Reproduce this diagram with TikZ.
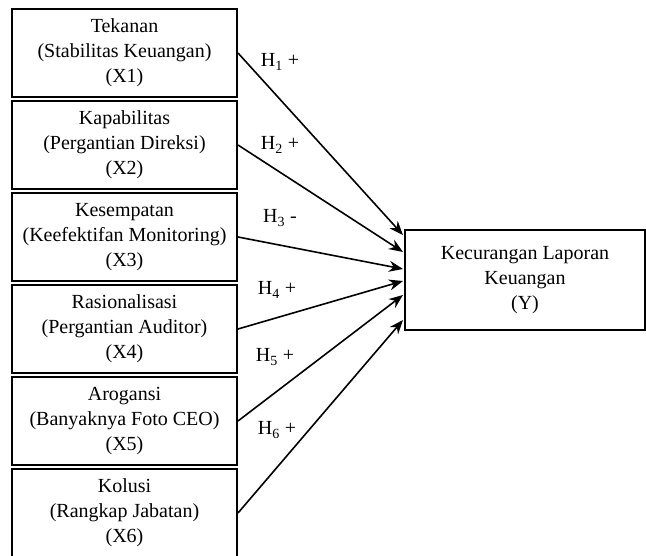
\documentclass[tikz,border=0pt]{standalone}
\usepackage{fontspec}
\setmainfont{Liberation Serif}
\usetikzlibrary{arrows.meta,calc}
\begin{document}
\begin{tikzpicture}[x=1pt,y=-1pt,every node/.style={font=\fontsize{20}{25}\selectfont,align=center}]
\tikzset{var/.style={draw,line width=2pt,minimum width=225pt,minimum height=88pt,inner sep=0pt}}
\useasboundingbox (0,0) rectangle (646,556);
\foreach \i/\t in {1/{Tekanan\\(Stabilitas Keuangan)\\(X1)},
                   2/{Kapabilitas\\(Pergantian Direksi)\\(X2)},
                   3/{Kesempatan\\(Keefektifan Monitoring)\\(X3)},
                   4/{Rasionalisasi\\(Pergantian Auditor)\\(X4)},
                   5/{Arogansi\\(Banyaknya Foto CEO)\\(X5)},
                   6/{Kolusi\\(Rangkap Jabatan)\\(X6)}}
  \node[var] (x\i) at (124.5, {53+(\i-1)*92}) {\t};
\node[var,minimum width=240pt,minimum height=100pt] (y) at (525,280) {Kecurangan Laporan\\Keuangan\\(Y)};
% hipotesis
\foreach \i/\d in {1/-45,2/-28,3/-11,4/1,5/15,6/40}
  \draw[-{Stealth[length=14pt,width=11pt]},line width=1.6pt] (x\i.east) -- ($(y.west)+(-1,\d)$);
\foreach \i/\s/\lx/\ly in {1/+/280/62,2/+/280/145,3/-/280/218,4/+/277/290,5/+/275/357,6/+/277/430}
  \node (h\i) at (\lx,\ly) {H\textsubscript{\i} \s};
\end{tikzpicture}
\end{document}
